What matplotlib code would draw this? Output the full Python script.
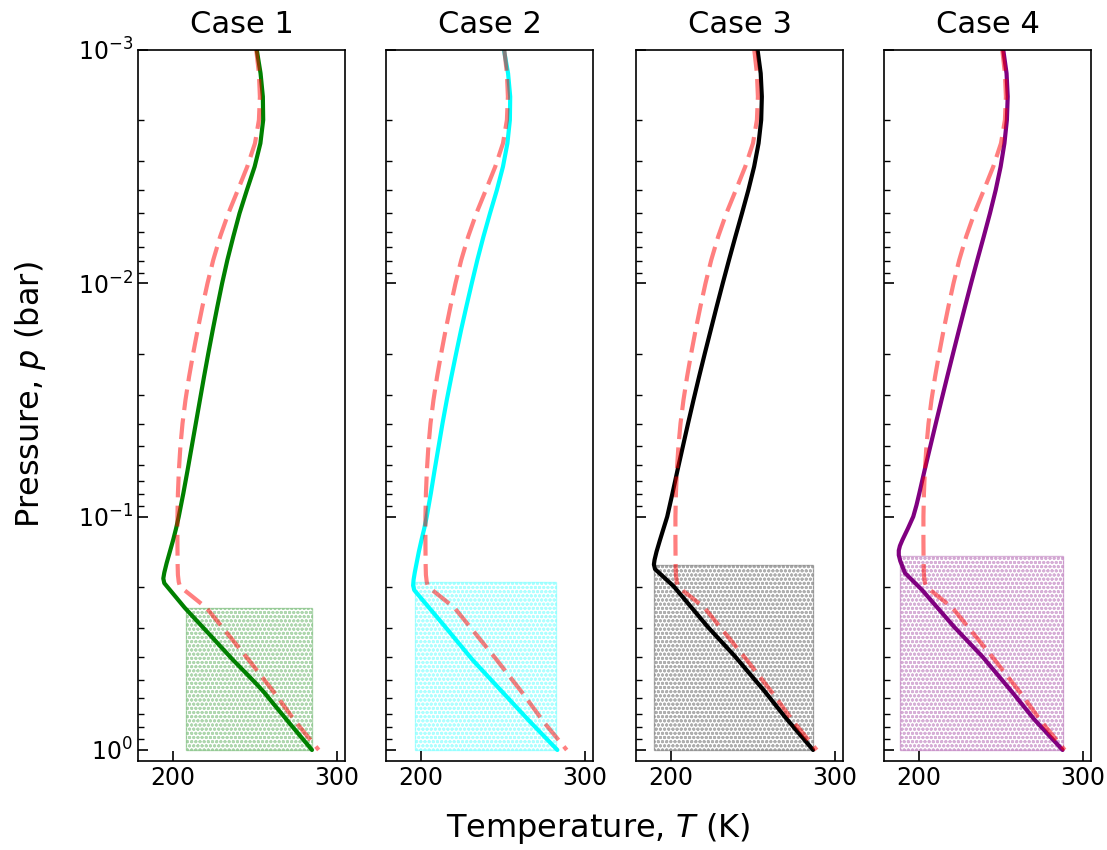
import numpy as np
import matplotlib
matplotlib.use("Agg")
import matplotlib.pyplot as plt
from matplotlib.patches import Rectangle

titles = ["Case 1", "Case 2", "Case 3", "Case 4"]
colors = ["green", "cyan", "black", "purple"]

# Reference (dashed) profile: log10(p) and T
ref_logp = [-3.0, -2.9, -2.8, -2.7, -2.6, -2.5, -2.4, -2.3, -2.2, -2.1, -2.0, -1.9, -1.8, -1.7, -1.6, -1.5,
            -1.4, -1.3, -1.2, -1.1, -1.0, -0.9, -0.8, -0.75, -0.72, -0.70, -0.609, -0.5, -0.386, -0.245, -0.12, 0.0]
ref_T = [251.0, 252.6, 253.2, 252.6, 250.2, 245.5, 239.8, 234.0, 229.0, 224.8, 221.3, 218.2, 215.3, 212.6, 210.1, 207.9,
         206.1, 204.8, 203.9, 203.3, 203.0, 203.0, 203.1, 203.3, 203.8, 204.6, 220.7, 233.3, 246.4, 262.0, 275.0, 289.0]

# Model profiles
c1_logp = [-3.0, -2.9, -2.8, -2.7, -2.6, -2.5, -2.4, -2.3, -2.2, -2.1, -2.0, -1.9, -1.8, -1.7, -1.6, -1.5,
           -1.4, -1.3, -1.2, -1.1, -1.0, -0.95, -0.9, -0.85, -0.8, -0.76, -0.735, -0.715, -0.609, -0.5, -0.386,
           -0.33, -0.28, -0.245, -0.2, -0.12, 0.0]
c1_T = [251.3, 253.6, 255.0, 255.2, 253.5, 250.0, 245.3, 240.8, 237.0, 233.4, 230.2, 227.3, 224.5, 221.8, 219.2, 216.7,
        214.2, 211.7, 209.2, 206.6, 203.8, 202.2, 200.4, 198.4, 196.4, 195.0, 194.4, 195.0, 207.5, 221.9, 236.8,
        244.6, 251.5, 256.0, 261.2, 270.6, 284.9]

c2_logp = [-3.0, -2.9, -2.8, -2.7, -2.6, -2.5, -2.4, -2.3, -2.2, -2.1, -2.0, -1.9, -1.8, -1.7, -1.6, -1.5,
           -1.4, -1.3, -1.2, -1.1, -1.0, -0.95, -0.9, -0.85, -0.8, -0.76, -0.73, -0.705, -0.685, -0.528, -0.386, -0.245, -0.129, 0.0]
c2_T = [250.8, 253.3, 254.6, 254.4, 252.9, 250.2, 246.5, 242.3, 238.3, 234.6, 231.2, 227.9, 224.7, 221.7, 218.8, 216.0,
        213.4, 211.0, 208.6, 206.3, 203.8, 202.3, 200.6, 199.0, 197.6, 196.5, 195.8, 195.5, 196.2, 215.0, 231.7, 250.3, 265.6, 283.3]

c3_logp = [-3.0, -2.9, -2.8, -2.7, -2.6, -2.5, -2.4, -2.3, -2.2, -2.1, -2.0, -1.9, -1.8, -1.7, -1.6, -1.5,
           -1.4, -1.3, -1.2, -1.1, -1.0, -0.95, -0.9, -0.85, -0.815, -0.795, -0.775, -0.701, -0.529, -0.40, -0.254, -0.144, 0.0]
c3_T = [253.0, 254.9, 255.6, 255.2, 253.6, 250.9, 247.4, 243.5, 239.5, 235.6, 231.8, 228.1, 224.5, 220.9, 217.4, 214.0,
        210.7, 207.5, 204.3, 201.2, 198.0, 195.8, 193.6, 191.5, 190.3, 189.9, 190.6, 202.0, 222.5, 239.4, 257.0, 269.4, 286.8]

c4_logp = [-3.0, -2.9, -2.8, -2.7, -2.6, -2.5, -2.4, -2.3, -2.2, -2.1, -2.0, -1.9, -1.8, -1.7, -1.6, -1.5,
           -1.4, -1.3, -1.2, -1.1, -1.05, -1.0, -0.95, -0.9, -0.875, -0.855, -0.835, -0.81, -0.758, -0.687, -0.529, -0.40, -0.254, -0.129, 0.0]
c4_T = [251.6, 253.6, 254.3, 253.8, 252.3, 250.0, 247.0, 243.5, 239.7, 235.8, 232.0, 228.3, 224.65, 221.05, 217.5, 214.0,
        210.55, 207.15, 203.75, 200.5, 198.8, 196.8, 193.6, 190.2, 188.7, 188.0, 188.0, 188.9, 191.8, 202.0, 221.5, 238.9, 256.3, 270.7, 287.7]

profiles_logp = [c1_logp, c2_logp, c3_logp, c4_logp]
profiles_T = [c1_T, c2_T, c3_T, c4_T]

# Hatched boxes: T range and p range
box_T0 = [208.1, 196.6, 189.8, 188.7]
box_T1 = [284.9, 282.5, 286.8, 288.0]
box_p0 = [0.247, 0.191, 0.161, 0.147]
box_p1 = [1.0, 1.0, 1.0, 1.0]

W, H = 1107, 850
fig = plt.figure(figsize=(W / 100, H / 100), dpi=100)
lefts = [138, 386, 636, 884]
axw = 207
bottom_px, top_px = 761, 50

axes = []
for i in range(4):
    ax = fig.add_axes([lefts[i] / W, 1 - bottom_px / H, axw / W, (bottom_px - top_px) / H])
    axes.append(ax)
    ax.set_yscale("log")
    p_model = [10 ** v for v in profiles_logp[i]]
    p_ref = [10 ** v for v in ref_logp]
    ax.add_patch(Rectangle((box_T0[i], box_p0[i]), box_T1[i] - box_T0[i], box_p1[i] - box_p0[i],
                           facecolor="none", edgecolor=colors[i], alpha=0.3, hatch="oooo", lw=1))
    ax.plot(profiles_T[i], p_model, color=colors[i], lw=3, solid_capstyle="round", solid_joinstyle="round")
    ax.plot(ref_T, p_ref, color="red", alpha=0.5, lw=3, linestyle=(0, (5, 2)))
    ax.set_xlim(179, 305)
    ax.set_ylim(1.115, 1e-3)
    ax.set_xticks([200, 300])
    ax.set_title(titles[i], fontsize=22, pad=12)
    ax.tick_params(axis="both", which="major", direction="in", length=7, width=1.2, labelsize=17)
    ax.tick_params(axis="both", which="minor", direction="in", length=4, width=1)
    ax.tick_params(axis="both", which="both", right=False, top=False)
    for s in ax.spines.values():
        s.set_linewidth(1.2)
    if i > 0:
        ax.tick_params(axis="y", which="both", labelleft=False)

fig.text(30 / W, 1 - 395 / H, "Pressure, $p$ (bar)", fontsize=23, rotation=90, ha="center", va="center")
fig.text(598 / W, 1 - 828 / H, "Temperature, $T$ (K)", fontsize=23, ha="center", va="center")

fig.savefig("out.png", dpi=100)
